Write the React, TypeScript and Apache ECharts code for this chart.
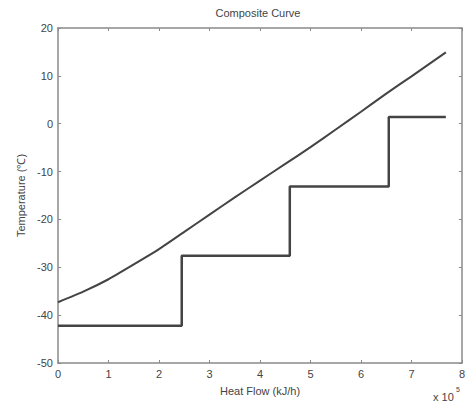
import React, { useEffect, useRef } from "react";
import * as echarts from "echarts";

// Heat flow in units of 1e5 kJ/h, temperature in °C
const hotQ = [0, 0.5, 1.0, 1.5, 2.0, 2.5, 3.0, 3.5, 4.0, 4.5, 5.0, 5.5, 6.0, 6.5, 7.0, 7.68];
const hotT = [-37.3, -35.1, -32.5, -29.4, -26.2, -22.6, -19.0, -15.4, -11.9, -8.4, -4.9, -1.2, 2.5, 6.3, 9.9, 14.9];

const coldQ = [0, 2.45, 4.59, 6.55, 7.68];
const coldT = [-42.2, -27.6, -13.1, 1.4, 1.4];

const xTicks = [0, 1, 2, 3, 4, 5, 6, 7, 8];
const yTicks = [-50, -40, -30, -20, -10, 0, 10, 20];

const FONT = "Liberation Sans, Arial, sans-serif";

export default function App() {
  const ref = useRef<HTMLDivElement>(null);
  useEffect(() => {
    if (!ref.current) return;
    const chart = echarts.init(ref.current, null, { renderer: "svg" });
    const frame = { onZero: false, show: true, lineStyle: { color: "#8a8a8a", width: 1.5 } };
    const tick = { show: true, inside: true, length: 3, lineStyle: { color: "#8a8a8a", width: 1 } };
    const label = { color: "#444", fontSize: 11, fontFamily: FONT };
    chart.setOption({
      animation: false,
      backgroundColor: "#fff",
      title: {
        text: "Composite Curve",
        left: 258,
        top: 7,
        padding: 0,
        textAlign: "center",
        textStyle: { fontSize: 11, fontWeight: "normal", color: "#444", fontFamily: FONT },
      },
      grid: { left: 58, right: 7, top: 28, bottom: 41 },
      xAxis: [
        {
          type: "value",
          min: xTicks[0],
          max: xTicks[xTicks.length - 1],
          interval: 1,
          position: "bottom",
          axisLine: frame,
          axisTick: tick,
          splitLine: { show: false },
          axisLabel: { ...label, margin: 5 },
          name: "Heat Flow (kJ/h)",
          nameLocation: "middle",
          nameGap: 22,
          nameTextStyle: { ...label },
        },
        {
          type: "value",
          min: xTicks[0],
          max: xTicks[xTicks.length - 1],
          interval: 1,
          position: "top",
          axisLine: frame,
          axisTick: tick,
          splitLine: { show: false },
          axisLabel: { show: false },
        },
      ],
      yAxis: [
        {
          type: "value",
          min: yTicks[0],
          max: yTicks[yTicks.length - 1],
          interval: 10,
          position: "left",
          axisLine: frame,
          axisTick: tick,
          splitLine: { show: false },
          axisLabel: { ...label, margin: 5 },
          name: "Temperature (℃)",
          nameLocation: "middle",
          nameGap: 28,
          nameTextStyle: { ...label },
        },
        {
          type: "value",
          min: yTicks[0],
          max: yTicks[yTicks.length - 1],
          interval: 10,
          position: "right",
          axisLine: frame,
          axisTick: tick,
          splitLine: { show: false },
          axisLabel: { show: false },
        },
      ],
      graphic: [
        {
          type: "text",
          left: 433,
          top: 391,
          style: { text: "x 10", fill: "#444", fontSize: 11, fontFamily: FONT },
        },
        {
          type: "text",
          left: 456,
          top: 386,
          style: { text: "5", fill: "#444", fontSize: 7, fontFamily: FONT },
        },
      ],
      series: [
        {
          type: "line",
          name: "Hot",
          data: hotQ.map((q, i) => [q, hotT[i]]),
          showSymbol: false,
          smooth: 0.2,
          lineStyle: { color: "#444", width: 2 },
        },
        {
          type: "line",
          name: "Cold",
          step: "end",
          data: coldQ.map((q, i) => [q, coldT[i]]),
          showSymbol: false,
          lineStyle: { color: "#444", width: 2.5 },
        },
      ],
    });
    return () => chart.dispose();
  }, []);
  return <div ref={ref} style={{ position: "fixed", left: 0, top: 0, width: 469, height: 404 }} />;
}
